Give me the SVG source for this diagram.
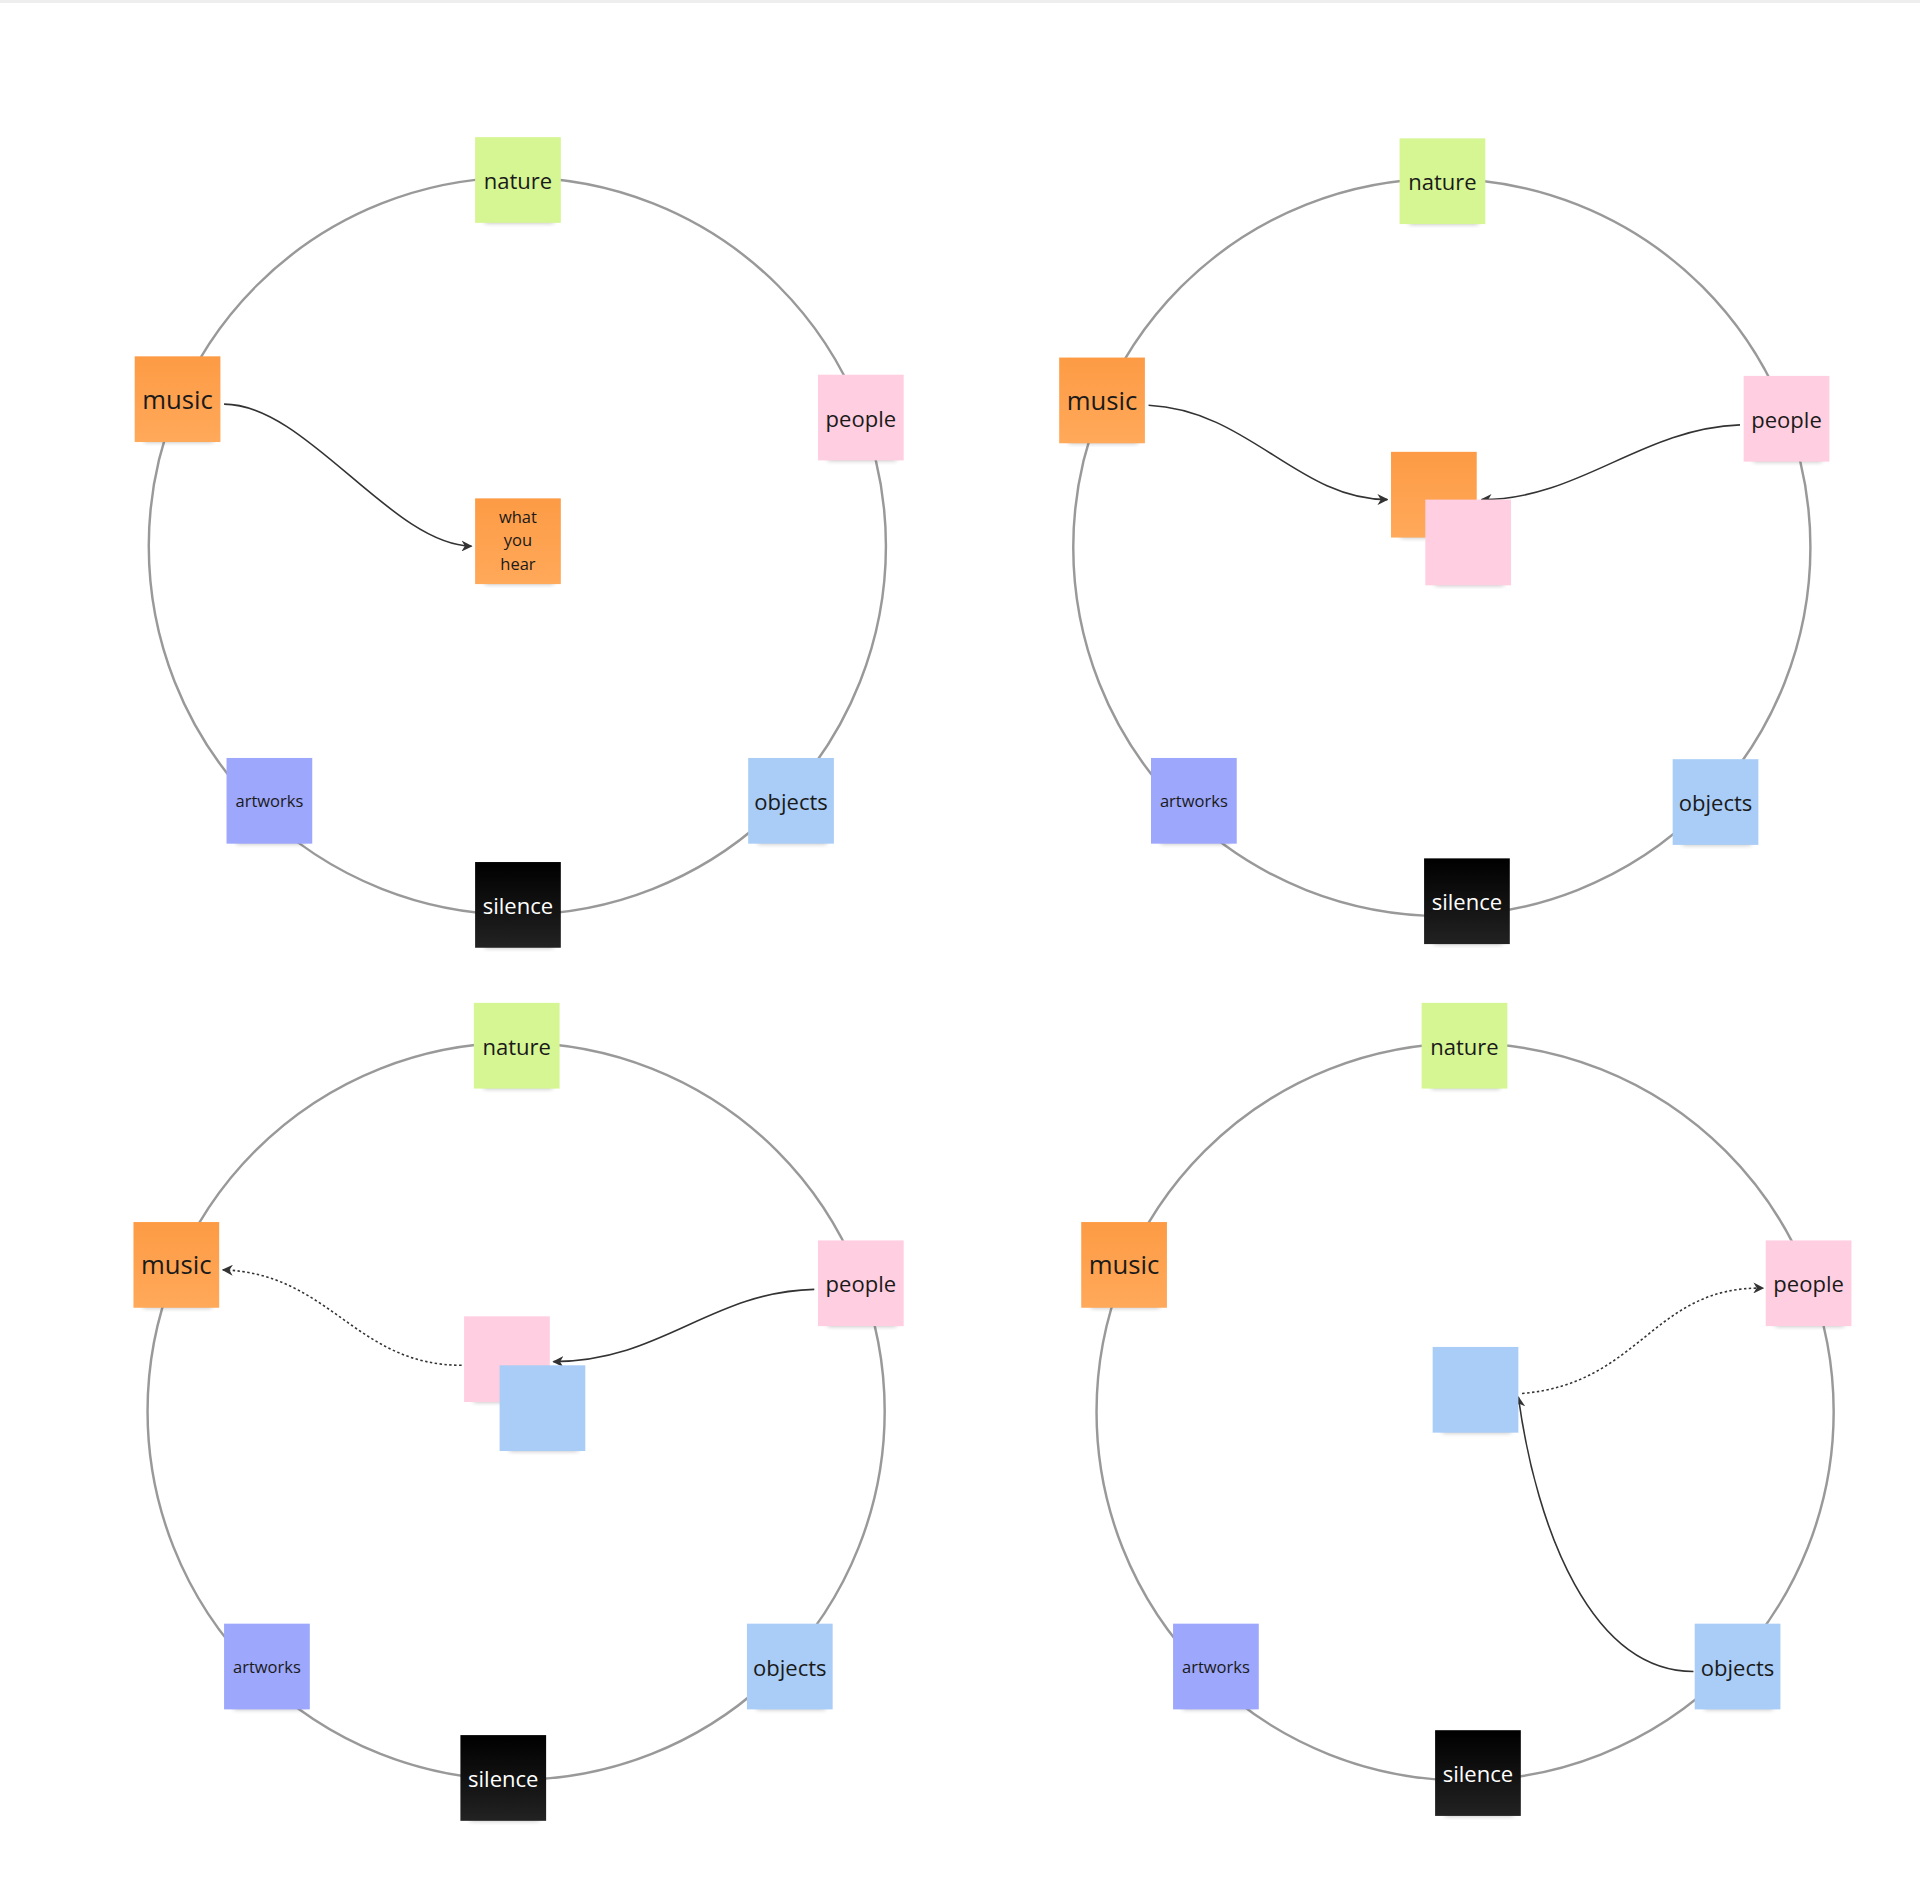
<svg xmlns="http://www.w3.org/2000/svg" width="1920" height="1904" viewBox="0 0 1920 1904">
<defs>
<style>
.ring{fill:none;stroke:#999;stroke-width:2}
.c{fill:none;stroke:#333;stroke-width:1.3}
.d{fill:none;stroke:#333;stroke-width:1.3;stroke-dasharray:2 2}
text{font-family:"Open Sans","Noto Sans",sans-serif;font-size:18px;fill:#1a1a1a;text-anchor:middle;dominant-baseline:central}
.sm{font-size:13.5px}
.w{fill:#fff}
.sh{fill:#000;opacity:.28;filter:url(#b)}
</style>
<filter id="b" x="-20%" y="-50%" width="140%" height="200%"><feGaussianBlur stdDeviation="2"/></filter>
<linearGradient id="or" x1="0" y1="0" x2="0" y2="1"><stop offset="0" stop-color="#fd9b45"/><stop offset="1" stop-color="#ffa95a"/></linearGradient>
<linearGradient id="bk" x1="0" y1="0" x2="0" y2="1"><stop offset="0" stop-color="#000"/><stop offset="1" stop-color="#222"/></linearGradient>
<marker id="a" viewBox="0 0 10 10" refX="9" refY="5" markerWidth="9" markerHeight="9" orient="auto" markerUnits="userSpaceOnUse"><path d="M0,0 L10,5 L0,10 L3,5 Z" fill="#333"/></marker>
<symbol id="s" overflow="visible"><rect class="sh" x="8" y="64" width="56" height="6"/></symbol>
</defs>
<rect width="1920" height="1904" fill="#fff"/>
<rect width="1920" height="3" fill="#eee"/>
<g transform="scale(1.22449)">
<g id="rings">
<circle class="ring" cx="422.5" cy="446" r="301"/>
<circle class="ring" cx="1177.5" cy="447" r="301"/>
<circle class="ring" cx="421.5" cy="1152.5" r="301"/>
<circle class="ring" cx="1196.5" cy="1153" r="301"/>
</g>
<g id="connectors">
<path class="c" d="M183,330 C250,330 320,445 385,446" marker-end="url(#a)"/>
<path class="c" d="M938,331 C1020,335 1060,408 1133,408" marker-end="url(#a)"/>
<path class="c" d="M1421,347 C1340,350 1290,408 1210,408" marker-end="url(#a)"/>
<path class="c" d="M665,1053 C580,1055 540,1112 452,1112" marker-end="url(#a)"/>
<path class="d" d="M377,1115 C290,1115 270,1040 182,1037" marker-end="url(#a)"/>
<path class="d" d="M1243,1138 C1340,1130 1350,1050 1440,1052" marker-end="url(#a)"/>
<path class="c" d="M1383,1365 C1300,1365 1255,1250 1240,1141" marker-end="url(#a)"/>
</g>
<!-- Panel 1 -->
<g id="p1-nature" transform="translate(388,112)"><use href="#s"/><rect width="70" height="70" fill="#d5f692"/><text x="35" y="35">nature</text></g>
<g id="p1-music" transform="translate(110,291)"><use href="#s"/><rect width="70" height="70" fill="url(#or)"/><text x="35" y="35" style="font-size:21px">music</text></g>
<g id="p1-people" transform="translate(668,306)"><use href="#s"/><rect width="70" height="70" fill="#ffcee0"/><text x="35" y="35">people</text></g>
<g id="p1-hear" transform="translate(388,407)"><use href="#s"/><rect width="70" height="70" fill="url(#or)"/><text class="sm" x="35" y="15">what</text><text class="sm" x="35" y="34">you</text><text class="sm" x="35" y="53">hear</text></g>
<g id="p1-artworks" transform="translate(185,619)"><use href="#s"/><rect width="70" height="70" fill="#9da7fb"/><text class="sm" x="35" y="35">artworks</text></g>
<g id="p1-objects" transform="translate(611,619)"><use href="#s"/><rect width="70" height="70" fill="#a9cdf6"/><text x="35" y="35">objects</text></g>
<g id="p1-silence" transform="translate(388,704)"><use href="#s"/><rect width="70" height="70" fill="url(#bk)"/><text class="w" x="35" y="35">silence</text></g>
<!-- Panel 2 -->
<g id="p2-nature" transform="translate(1143,113)"><use href="#s"/><rect width="70" height="70" fill="#d5f692"/><text x="35" y="35">nature</text></g>
<g id="p2-music" transform="translate(865,292)"><use href="#s"/><rect width="70" height="70" fill="url(#or)"/><text x="35" y="35" style="font-size:21px">music</text></g>
<g id="p2-people" transform="translate(1424,307)"><use href="#s"/><rect width="70" height="70" fill="#ffcee0"/><text x="35" y="35">people</text></g>
<g id="p2-orange" transform="translate(1136,369)"><use href="#s"/><rect width="70" height="70" fill="url(#or)"/></g>
<g id="p2-pink" transform="translate(1164,408)"><use href="#s"/><rect width="70" height="70" fill="#ffcee0"/></g>
<g id="p2-artworks" transform="translate(940,619)"><use href="#s"/><rect width="70" height="70" fill="#9da7fb"/><text class="sm" x="35" y="35">artworks</text></g>
<g id="p2-objects" transform="translate(1366,620)"><use href="#s"/><rect width="70" height="70" fill="#a9cdf6"/><text x="35" y="35">objects</text></g>
<g id="p2-silence" transform="translate(1163,701)"><use href="#s"/><rect width="70" height="70" fill="url(#bk)"/><text class="w" x="35" y="35">silence</text></g>
<!-- Panel 3 -->
<g id="p3-nature" transform="translate(387,819)"><use href="#s"/><rect width="70" height="70" fill="#d5f692"/><text x="35" y="35">nature</text></g>
<g id="p3-music" transform="translate(109,998)"><use href="#s"/><rect width="70" height="70" fill="url(#or)"/><text x="35" y="35" style="font-size:21px">music</text></g>
<g id="p3-people" transform="translate(668,1013)"><use href="#s"/><rect width="70" height="70" fill="#ffcee0"/><text x="35" y="35">people</text></g>
<g id="p3-pink" transform="translate(379,1075)"><use href="#s"/><rect width="70" height="70" fill="#ffcee0"/></g>
<g id="p3-blue" transform="translate(408,1115)"><use href="#s"/><rect width="70" height="70" fill="#a9cdf6"/></g>
<g id="p3-artworks" transform="translate(183,1326)"><use href="#s"/><rect width="70" height="70" fill="#9da7fb"/><text class="sm" x="35" y="35">artworks</text></g>
<g id="p3-objects" transform="translate(610,1326)"><use href="#s"/><rect width="70" height="70" fill="#a9cdf6"/><text x="35" y="35">objects</text></g>
<g id="p3-silence" transform="translate(376,1417)"><use href="#s"/><rect width="70" height="70" fill="url(#bk)"/><text class="w" x="35" y="35">silence</text></g>
<!-- Panel 4 -->
<g id="p4-nature" transform="translate(1161,819)"><use href="#s"/><rect width="70" height="70" fill="#d5f692"/><text x="35" y="35">nature</text></g>
<g id="p4-music" transform="translate(883,998)"><use href="#s"/><rect width="70" height="70" fill="url(#or)"/><text x="35" y="35" style="font-size:21px">music</text></g>
<g id="p4-people" transform="translate(1442,1013)"><use href="#s"/><rect width="70" height="70" fill="#ffcee0"/><text x="35" y="35">people</text></g>
<g id="p4-blue" transform="translate(1170,1100)"><use href="#s"/><rect width="70" height="70" fill="#a9cdf6"/></g>
<g id="p4-artworks" transform="translate(958,1326)"><use href="#s"/><rect width="70" height="70" fill="#9da7fb"/><text class="sm" x="35" y="35">artworks</text></g>
<g id="p4-objects" transform="translate(1384,1326)"><use href="#s"/><rect width="70" height="70" fill="#a9cdf6"/><text x="35" y="35">objects</text></g>
<g id="p4-silence" transform="translate(1172,1413)"><use href="#s"/><rect width="70" height="70" fill="url(#bk)"/><text class="w" x="35" y="35">silence</text></g>
</g>
</svg>
